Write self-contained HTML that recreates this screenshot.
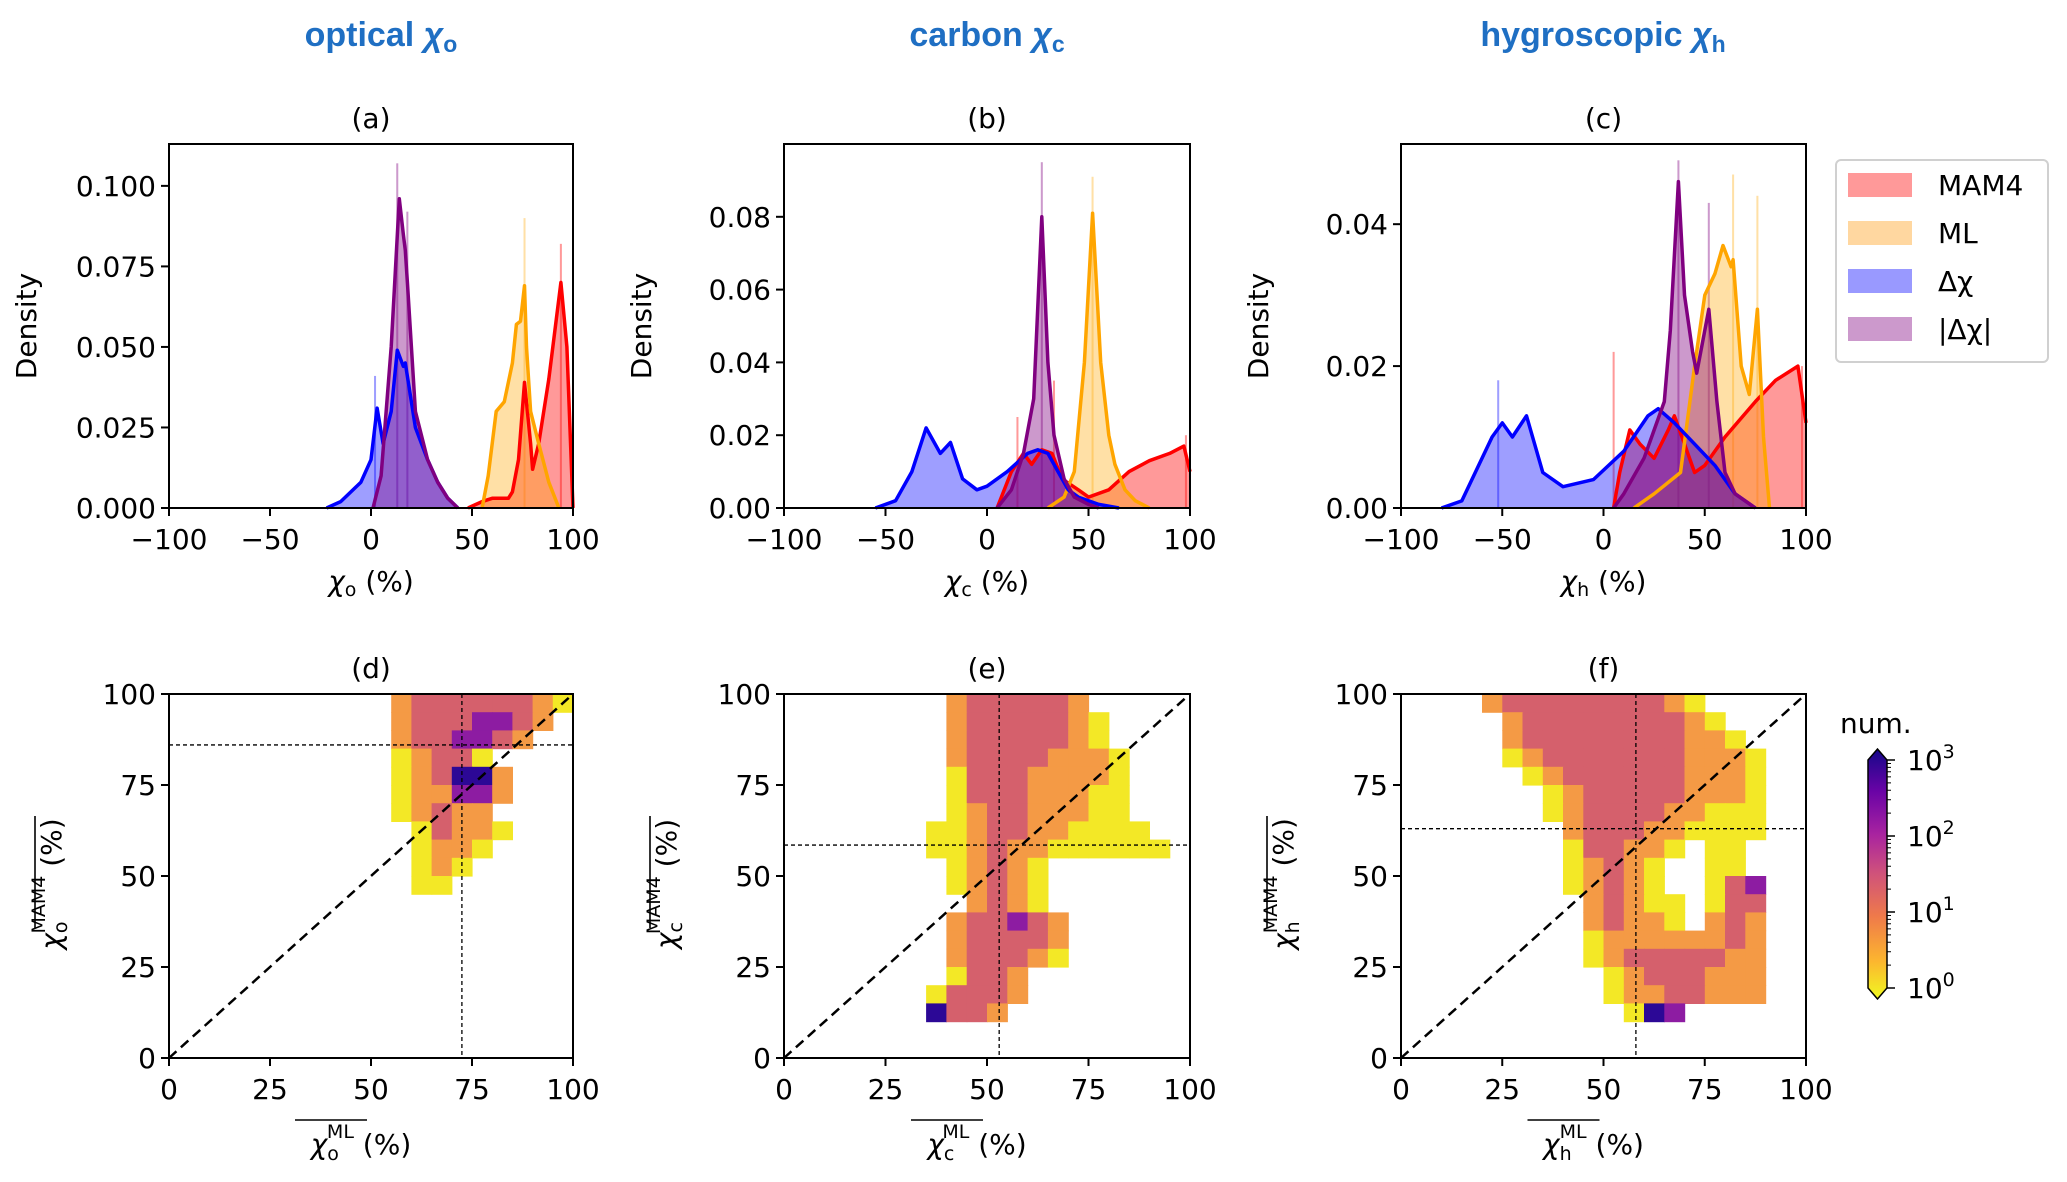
<!DOCTYPE html>
<html><head><meta charset="utf-8"><style>
html,body{margin:0;padding:0;background:#fff;}
svg{display:block;font-family:"DejaVu Sans","Liberation Sans",sans-serif;}
</style></head><body>
<svg id="fig" width="2067" height="1182" viewBox="0 0 2067 1182" xmlns="http://www.w3.org/2000/svg">
<g font-family="Liberation Sans, sans-serif" font-weight="bold" fill="#1f6fc3" font-size="34" text-anchor="middle">
<text x="381" y="46">optical <tspan font-style="italic">χ</tspan><tspan font-size="23" dy="6">o</tspan></text>
<text x="987" y="46">carbon <tspan font-style="italic">χ</tspan><tspan font-size="23" dy="6">c</tspan></text>
<text x="1603" y="46">hygroscopic <tspan font-style="italic">χ</tspan><tspan font-size="23" dy="6">h</tspan></text>
</g>
<g id="root"></g>
</svg>
<script>
// ---------- DATA ----------
const histTicksX = [-100,-50,0,50,100];
const scatTicks = [0,25,50,75,100];
const densTicksA = [0,0.025,0.05,0.075,0.1];
const densLabelsA = ["0.000","0.025","0.050","0.075","0.100"];
const densTicksB = [0,0.02,0.04,0.06,0.08];
const densLabelsB = ["0.00","0.02","0.04","0.06","0.08"];
const densTicksC = [0,0.02,0.04];
const densLabelsC = ["0.00","0.02","0.04"];

// panel a KDE (x in %, density)
const aMamX = [48,55,60,68,70,73,76,79,80,83,88,94,97,100];
const aMamY = [0,0.002,0.003,0.003,0.005,0.015,0.039,0.02,0.012,0.02,0.04,0.07,0.05,0];
const aMlX = [55,58,62,66,70,72,74,76,77,79,83,88,93];
const aMlY = [0,0.01,0.03,0.033,0.045,0.057,0.058,0.069,0.05,0.03,0.02,0.008,0];
const aDX = [-22,-15,-5,0,3,6,10,13,16,17,22,28,33,38,43];
const aDY = [0,0.002,0.008,0.015,0.031,0.02,0.03,0.049,0.044,0.045,0.025,0.015,0.008,0.003,0];
const aAX = [1,5,10,14,16,17,18,22,28,33,38,43];
const aAY = [0,0.01,0.05,0.096,0.085,0.08,0.07,0.03,0.015,0.008,0.003,0];
const aSpikeX = [13,18,76,94,2];
const aSpikeY = [0.107,0.092,0.09,0.082,0.041];
const aSpikeS = [3,3,1,0,2];

// panel b
const bMamX = [5,12,18,22,27,32,37,45,50,60,70,80,90,97,100];
const bMamY = [0,0.01,0.015,0.012,0.016,0.015,0.008,0.005,0.003,0.005,0.01,0.013,0.015,0.017,0.01];
const bMlX = [30,38,43,48,52,56,60,63,68,73,80];
const bMlY = [0,0.003,0.01,0.04,0.081,0.04,0.02,0.012,0.005,0.002,0];
const bDX = [-55,-45,-37,-30,-23,-18,-12,-5,0,10,20,25,30,35,40,45,55,65];
const bDY = [0,0.002,0.01,0.022,0.015,0.018,0.008,0.005,0.006,0.01,0.015,0.016,0.015,0.01,0.005,0.003,0.001,0];
const bAX = [5,12,18,23,27,30,33,38,43,50,55];
const bAY = [0,0.005,0.015,0.03,0.08,0.04,0.02,0.008,0.003,0.001,0];
const bSpikeX = [27,52,15,33,98];
const bSpikeY = [0.095,0.091,0.025,0.035,0.02];
const bSpikeS = [3,1,0,0,0];

// panel c
const cMamX = [5,8,13,18,25,32,35,40,45,50,60,75,85,96,100];
const cMamY = [0,0.005,0.011,0.009,0.007,0.011,0.013,0.009,0.005,0.006,0.01,0.015,0.018,0.02,0.012];
const cMlX = [15,25,38,45,50,55,59,63,64,68,72,76,79,82];
const cMlY = [0,0.002,0.005,0.02,0.03,0.033,0.037,0.034,0.035,0.02,0.016,0.028,0.01,0];
const cDX = [-80,-70,-55,-50,-45,-38,-30,-20,-5,10,22,27,35,45,55,65,75];
const cDY = [0,0.001,0.01,0.012,0.01,0.013,0.005,0.003,0.004,0.008,0.013,0.014,0.012,0.009,0.006,0.002,0];
const cAX = [5,10,20,30,33,37,40,44,46,52,56,60,65,75];
const cAY = [0,0.002,0.007,0.015,0.025,0.046,0.03,0.022,0.019,0.028,0.015,0.005,0.002,0];
const cSpikeX = [37,52,64,76,98,5,-52];
const cSpikeY = [0.049,0.043,0.047,0.044,0.02,0.022,0.018];
const cSpikeS = [3,3,1,1,0,0,2];

// heatmaps: 20x20 bins of 5%, rows from top (95-100) downward; digit = colour level
const dGrid = [
"00000000000233333321",
"00000000000233344320",
"00000000000233443200",
"00000000000123310000",
"00000000000123552000",
"00000000000122442000",
"00000000000123220000",
"00000000000013221000",
"00000000000012210000",
"00000000000012100000",
"00000000000011000000",
"00000000000000000000","00000000000000000000","00000000000000000000","00000000000000000000",
"00000000000000000000","00000000000000000000","00000000000000000000","00000000000000000000","00000000000000000000"];
const eGrid = [
"00000000233333200000",
"00000000233333210000",
"00000000233333210000",
"00000000233332221000",
"00000000133322221000",
"00000000133322211000",
"00000000123322211000",
"00000001123322111100",
"00000001123221111110",
"00000000123210000000",
"00000000123210000000",
"00000000023210000000",
"00000000233432000000",
"00000000233332000000",
"00000000233321000000",
"00000000133200000000",
"00000001333200000000",
"00000005332000000000",
"00000000000000000000","00000000000000000000"];
const fGrid = [
"00002333333332100000",
"00000233333333210000",
"00000233333333221000",
"00000123333333222100",
"00000012333333222100",
"00000001233333222100",
"00000001233332211100",
"00000000233322111100",
"00000000133221011000",
"00000000123210011000",
"00000000123210013400",
"00000000023211013300",
"00000000023221023200",
"00000000012222223200",
"00000000012333332200",
"00000000001233322200",
"00000000001223322200",
"00000000000154000000",
"00000000000000000000","00000000000000000000"];
const dMean = [72.5,86];
const eMean = [53,58.5];
const fMean = [58,63];
const cbarTicks = [0,1,2,3];

// ---------- DRAW ----------
const NS = "http://www.w3.org/2000/svg";
const root = document.getElementById('root');
function mk(tag, attrs, parent){ const e=document.createElementNS(NS,tag); for(const k in attrs) e.setAttribute(k,attrs[k]); (parent||root).appendChild(e); return e; }
const lineCols = ['#ff0000','#ffa500','#0000ff','#800080'];
const fillCols = ['rgba(255,0,0,0.4)','rgba(255,165,0,0.35)','rgba(0,0,255,0.38)','rgba(128,0,128,0.4)'];
const seriesNames = ['mam4','ml','delta-chi','abs-delta-chi'];
const levelCols = ['none','#f3e826','#f49a45','#d5606c','#8d1ca2','#2c0896'];

function histPanel(id,L,R,T,B,ymax,yt,yl,series,spx,spy,sps,title,sub){
  const g = mk('g',{});
  
  
  const sx = x => L+(x+100)/200*(R-L);
  const sy = y => B-(y/ymax)*(B-T);
  for(let i=0;i<spx.length;i++){
    const r = mk('rect',{x:sx(spx[i]-0.5),y:sy(spy[i]),width:Math.max(2,sx(1)-sx(0)),height:B-sy(spy[i]),fill:fillCols[sps[i]]},g);
    
    
  }
  series.forEach((s,k)=>{
    const [xs,ys]=s;
    let d='M'+sx(xs[0])+','+B;
    for(let i=0;i<xs.length;i++) d+=' L'+sx(xs[i]).toFixed(1)+','+sy(ys[i]).toFixed(1);
    d+=' L'+sx(xs[xs.length-1])+','+B+'Z';
    const f=mk('path',{d:d,fill:fillCols[k]},g);
    
    
  });
  series.forEach((s,k)=>{
    const [xs,ys]=s;
    let d='';
    for(let i=0;i<xs.length;i++) d+=(i?' L':'M')+sx(xs[i]).toFixed(1)+','+sy(ys[i]).toFixed(1);
    const p=mk('path',{d:d,fill:'none',stroke:lineCols[k],'stroke-width':3.5,'stroke-linejoin':'round'},g);
    
    
  });
  const fr=mk('rect',{x:L,y:T,width:R-L,height:B-T,fill:'none',stroke:'#000','stroke-width':2},g);
  
  
  histTicksX.forEach(v=>{
    mk('line',{x1:sx(v),x2:sx(v),y1:B,y2:B+8,stroke:'#000','stroke-width':2},g);
    const t=mk('text',{x:sx(v),y:B+41,'font-size':28,'text-anchor':'middle'},g);
    t.textContent=(v<0?'\u2212'+(-v):v);
    
    
  });
  yt.forEach((v,i)=>{
    mk('line',{x1:L-8,x2:L,y1:sy(v),y2:sy(v),stroke:'#000','stroke-width':2},g);
    const t=mk('text',{x:L-13,y:sy(v)+10,'font-size':28,'text-anchor':'end'},g);
    t.textContent=yl[i];
    
    
  });
  const tt=mk('text',{x:(L+R)/2,y:T-16,'font-size':28,'text-anchor':'middle'},g);
  tt.textContent=title;
  
  
  const xl=mk('text',{x:(L+R)/2,y:B+83,'font-size':28,'text-anchor':'middle'},g);
  xl.innerHTML='<tspan font-style="italic">χ</tspan><tspan font-size="19" dy="5">'+sub+'</tspan><tspan dy="-5"> (%)</tspan>';
  
  
  const yy=(T+B)/2;
  const ylb=mk('text',{x:0,y:0,'font-size':28,'text-anchor':'middle',transform:'translate('+(L-133)+','+yy+') rotate(-90)'},g);
  ylb.textContent='Density';
  
  
}

function scatPanel(id,L,R,T,B,grid,mean,title,sub){
  const g = mk('g',{});
  
  
  const sx = x => L+x/100*(R-L);
  const sy = y => B-y/100*(B-T);
  grid.forEach((row,r)=>{
    for(let c=0;c<row.length;c++){
      const lv=+row[c]; if(!lv) continue;
      const y0=100-5*(r+1);
      const cell=mk('rect',{x:sx(c*5).toFixed(1),y:sy(y0+5).toFixed(1),width:(sx(5)-sx(0)+0.6).toFixed(1),height:(sy(0)-sy(5)+0.6).toFixed(1),fill:levelCols[lv]},g);
      
      
    }
  });
  const dg=mk('line',{x1:sx(0),y1:sy(0),x2:sx(100),y2:sy(100),stroke:'#000','stroke-width':2.5,'stroke-dasharray':'10,6'},g);
  
  
  const vm=mk('line',{x1:sx(mean[0]),y1:T,x2:sx(mean[0]),y2:B,stroke:'#000','stroke-width':1.3,'stroke-dasharray':'4,3'},g);
  
  
  const hm=mk('line',{x1:L,y1:sy(mean[1]),x2:R,y2:sy(mean[1]),stroke:'#000','stroke-width':1.3,'stroke-dasharray':'4,3'},g);
  
  
  const fr=mk('rect',{x:L,y:T,width:R-L,height:B-T,fill:'none',stroke:'#000','stroke-width':2},g);
  
  
  scatTicks.forEach(v=>{
    mk('line',{x1:sx(v),x2:sx(v),y1:B,y2:B+8,stroke:'#000','stroke-width':2},g);
    const t=mk('text',{x:sx(v),y:B+41,'font-size':28,'text-anchor':'middle'},g);
    t.textContent=v;
    
    
    mk('line',{x1:L-8,x2:L,y1:sy(v),y2:sy(v),stroke:'#000','stroke-width':2},g);
    const u=mk('text',{x:L-13,y:sy(v)+10,'font-size':28,'text-anchor':'end'},g);
    u.textContent=v;
    
    
  });
  const tt=mk('text',{x:(L+R)/2,y:T-16,'font-size':28,'text-anchor':'middle'},g);
  tt.textContent=title;
  
  
  const cx=(L+R)/2-10;
  const xl=mk('text',{x:cx,y:B+96,'font-size':28,'text-anchor':'middle'},g);
  xl.innerHTML='<tspan font-style="italic">χ</tspan><tspan font-size="19" dy="6">'+sub+'</tspan><tspan font-size="19" dx="-12" dy="-22">ML</tspan><tspan dy="16"> (%)</tspan>';
  
  
  mk('line',{x1:cx-66,x2:cx+6,y1:B+62,y2:B+62,stroke:'#000','stroke-width':1.6},g);
  const yy=(T+B)/2;
  const ylb=mk('text',{x:0,y:0,'font-size':28,'text-anchor':'middle',transform:'translate('+(L-108)+','+(yy+8)+') rotate(-90)'},g);
  ylb.innerHTML='<tspan font-style="italic">χ</tspan><tspan font-size="19" dy="6">'+sub+'</tspan><tspan font-size="19" dx="-12" dy="-22">MAM4</tspan><tspan dy="16">  (%)</tspan>';
  
  
  mk('line',{x1:L-134,x2:L-134,y1:yy+8+44,y2:yy+8-44-24,stroke:'#000','stroke-width':1.6},g);
}

histPanel('a',169,573,144,508,0.113,densTicksA,densLabelsA,[[aMamX,aMamY],[aMlX,aMlY],[aDX,aDY],[aAX,aAY]],aSpikeX,aSpikeY,aSpikeS,'(a)','o');
histPanel('b',784,1190,144,508,0.1,densTicksB,densLabelsB,[[bMamX,bMamY],[bMlX,bMlY],[bDX,bDY],[bAX,bAY]],bSpikeX,bSpikeY,bSpikeS,'(b)','c');
histPanel('c',1401,1806,144,508,0.0513,densTicksC,densLabelsC,[[cMamX,cMamY],[cMlX,cMlY],[cDX,cDY],[cAX,cAY]],cSpikeX,cSpikeY,cSpikeS,'(c)','h');
scatPanel('d',169,573,694,1058,dGrid,dMean,'(d)','o');
scatPanel('e',784,1190,694,1058,eGrid,eMean,'(e)','c');
scatPanel('f',1401,1806,694,1058,fGrid,fMean,'(f)','h');

// legend
const lg=mk('g',{});


mk('rect',{x:1836,y:160,width:212,height:202,rx:5,fill:'#fff',stroke:'#d0d0d0','stroke-width':2},lg);
const legLabels=['MAM4','ML','Δχ','|Δχ|'];
const legFill=['#ff9999','#ffd7a0','#9999ff','#cc99cc'];
legLabels.forEach((s,i)=>{
  const y=185+i*48;
  const p=mk('rect',{x:1848,y:y-12,width:64,height:24,fill:legFill[i]},lg);
  
  
  const t=mk('text',{x:1938,y:y+10,'font-size':28},lg);
  t.textContent=s;
  
  
});

// colorbar
const cb=mk('g',{});


const defs=mk('defs',{},cb);
const gr=mk('linearGradient',{id:'plasma',x1:0,y1:1,x2:0,y2:0},defs);
[['0','#f0f921'],['0.15','#fcb62f'],['0.33','#ef7a4a'],['0.5','#d0537a'],['0.66','#a823a0'],['0.83','#6a03a6'],['1','#150789']].forEach(s=>mk('stop',{offset:s[0],'stop-color':s[1]},gr));
const cT=760,cB=988,cL=1868,cR=1887;
const cbody=mk('path',{d:`M${cL},${cT} L${(cL+cR)/2},${cT-11} L${cR},${cT} L${cR},${cB} L${(cL+cR)/2},${cB+11} L${cL},${cB} Z`,fill:'url(#plasma)',stroke:'#000','stroke-width':1.5},cb);


const cy=v=>cB-(v/3)*(cB-cT);
cbarTicks.forEach(v=>{
  mk('line',{x1:cR,x2:cR+8,y1:cy(v),y2:cy(v),stroke:'#000','stroke-width':1.5},cb);
  if(v<3){for(let m=2;m<10;m++){const yy=cy(v+Math.log10(m));mk('line',{x1:cR,x2:cR+4,y1:yy,y2:yy,stroke:'#000','stroke-width':1},cb);}}
  const t=mk('text',{x:cR+20,y:cy(v)+10,'font-size':28},cb);
  t.innerHTML='10<tspan font-size="19" dy="-12">'+v+'</tspan>';
  
  
});
const nm=mk('text',{x:1840,y:733,'font-size':28},cb);
nm.textContent='num.';


</script>
</body></html>
